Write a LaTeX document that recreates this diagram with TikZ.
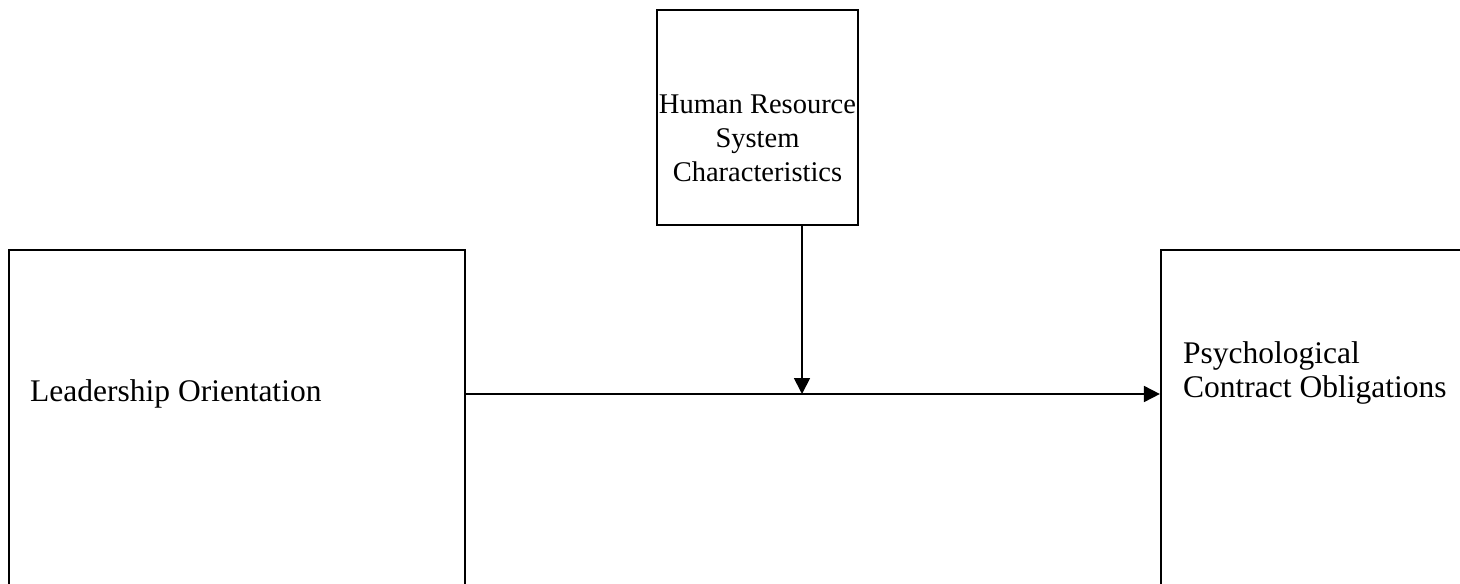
\documentclass[tikz,border=0pt]{standalone}
\usepackage{fontspec}
\setmainfont{Liberation Serif}
\usetikzlibrary{arrows.meta}
\begin{document}
\begin{tikzpicture}[x=1pt,y=-1pt,
  boxst/.style={draw=black, line width=2.2pt, rectangle, inner sep=0pt},
  lbl/.style={inner sep=0pt, font=\fontsize{31.5}{33.5}\selectfont},
  lbls/.style={inner sep=0pt, font=\fontsize{28.5}{34}\selectfont},
  conn/.style={line width=1.8pt, -{Triangle[length=16pt,width=16pt]}}]
\clip (0,0) rectangle (1460,584);
\fill[white] (0,0) rectangle (1460,584);
% boxes
\node[boxst, minimum width=456pt, minimum height=400pt] (lo) at (237,450) {};
\node[boxst, minimum width=360pt, minimum height=400pt] (pc) at (1341,450) {};
\node[boxst, minimum width=201pt, minimum height=215pt] (hr) at (757.5,117.5) {};
% texts
\node[lbl, anchor=base west] (lot) at (30,401) {Leadership Orientation};
\node[lbl, anchor=base west, align=left] (pct) at (1183,397) {Psychological\\Contract Obligations};
\node[lbls, anchor=base, align=center] (hrt) at (757.5,181) {Human Resource\\System\\Characteristics};
% junction
\coordinate (j) at (802,394);
\draw[conn] (lo.east |- j) -- (pc.west |- j);
\draw[conn] (hr.south -| j) -- (j);
\end{tikzpicture}
\end{document}
